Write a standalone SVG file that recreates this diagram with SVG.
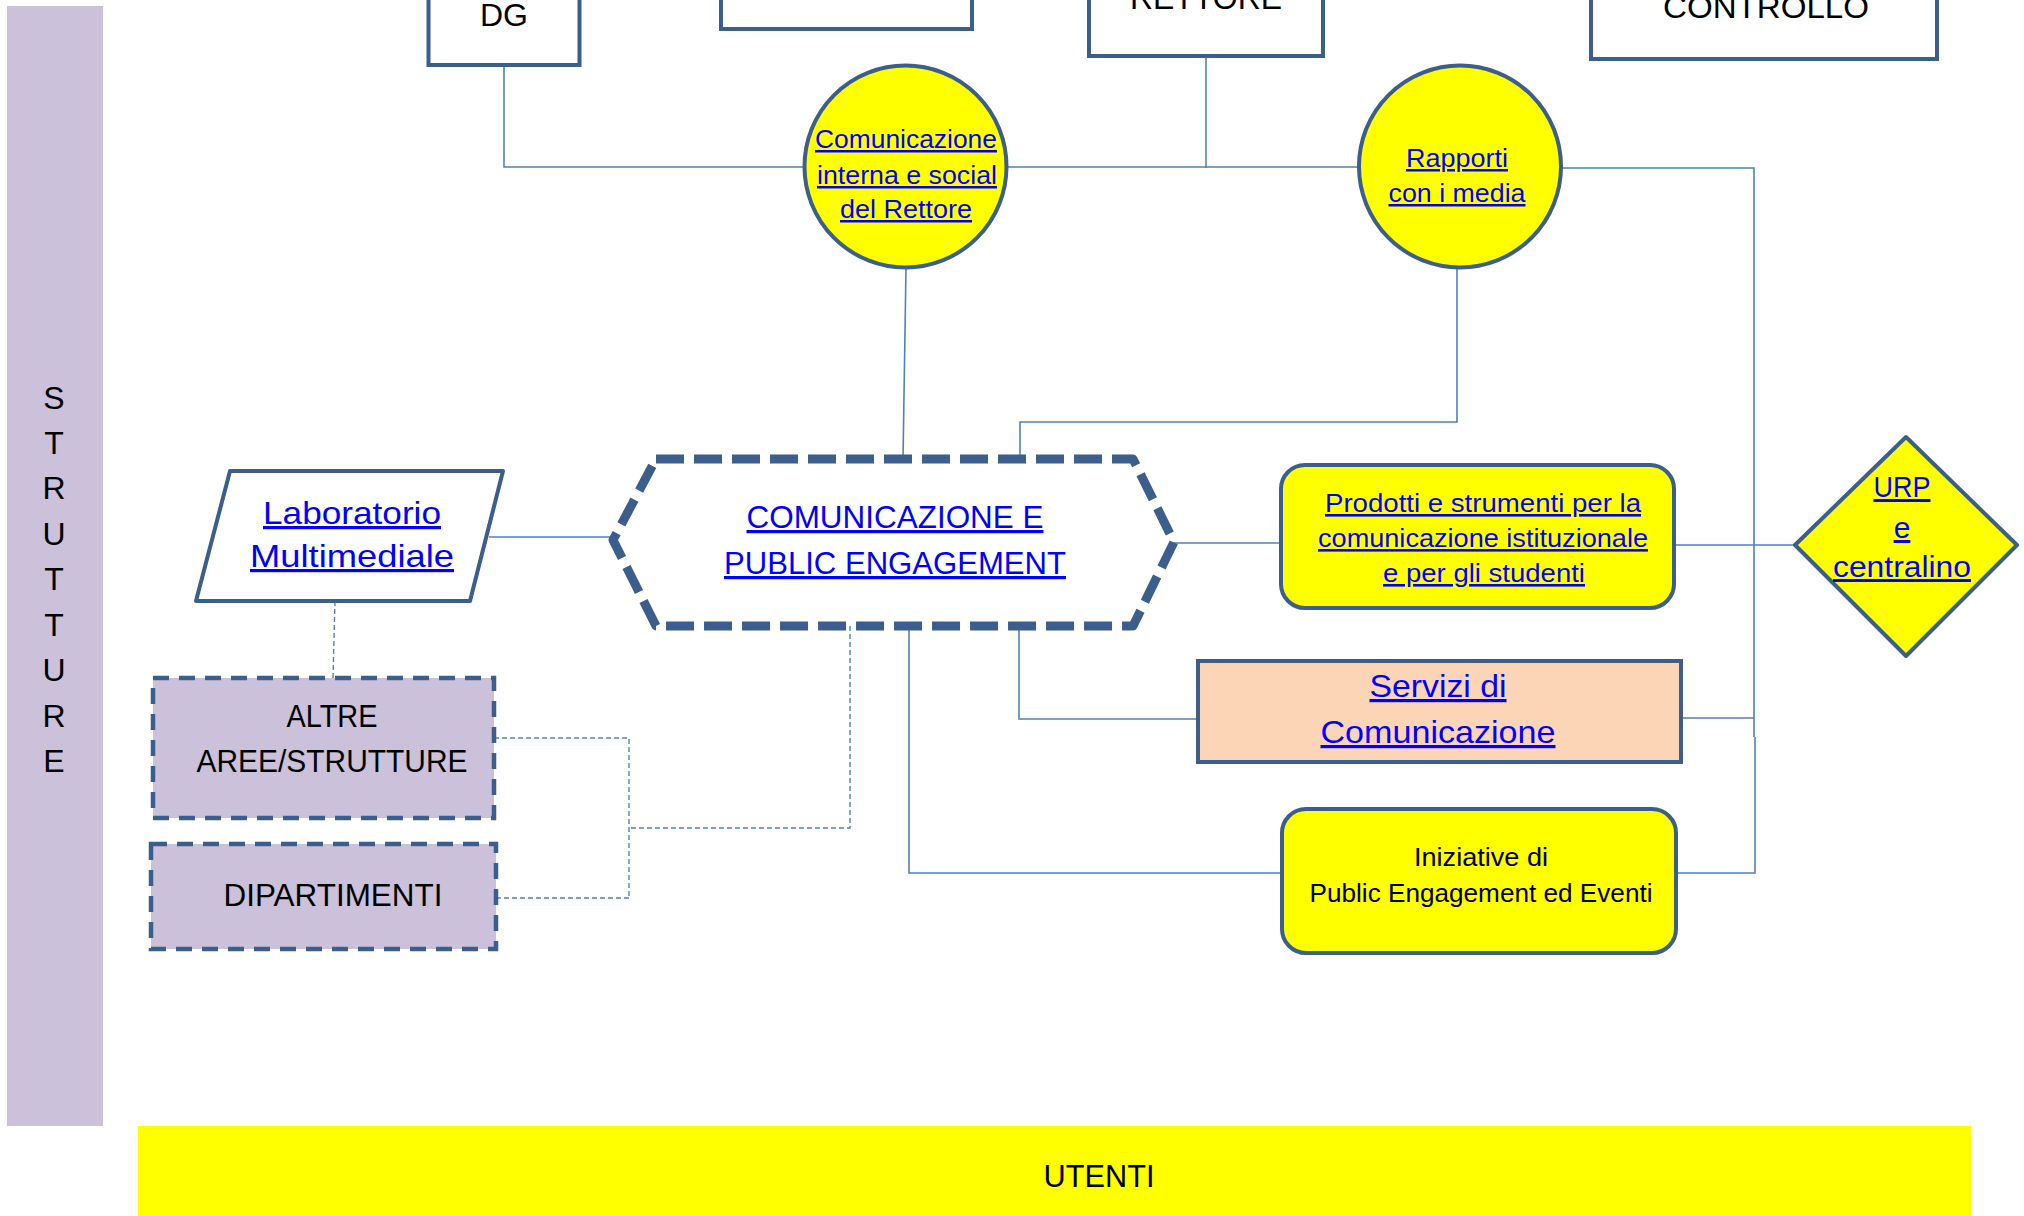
<svg xmlns="http://www.w3.org/2000/svg" width="2024" height="1216" viewBox="0 0 2024 1216">
<style>
text{font-family:"Liberation Sans",Arial,sans-serif;text-anchor:middle}
.blk{fill:#000}
.lnk{fill:#0000FF;text-decoration:underline}
.box{fill:#fff;stroke:#3B5E8C;stroke-width:4}
.yel{fill:#FFFF00;stroke:#3B5E8C;stroke-width:4}
.pur{fill:#CCC1DA;stroke:#3B5E8C;stroke-width:4.5;stroke-dasharray:16 10}
.con{fill:none;stroke:#4F81BD;stroke-width:1.6}
.dcon{fill:none;stroke:#4F81BD;stroke-width:1.4;stroke-dasharray:5 3}
</style>
<rect x="0" y="0" width="2024" height="1216" fill="#fff"/>
<g id="strutture">
<rect x="7" y="6" width="96" height="1120" fill="#CCC1DA"/>
<g class="blk" font-size="32">
<text x="54" y="409">S</text><text x="54" y="454">T</text><text x="54" y="499">R</text><text x="54" y="545">U</text><text x="54" y="590">T</text><text x="54" y="636">T</text><text x="54" y="681">U</text><text x="54" y="727">R</text><text x="54" y="772">E</text>
</g>
</g>
<g id="utenti">
<rect x="138" y="1126" width="1833" height="90" fill="#FFFF00"/>
<text class="blk" x="1099" y="1187" font-size="31" textLength="111" lengthAdjust="spacingAndGlyphs">UTENTI</text>
</g>
<g id="connectors">
<path class="con" d="M504 66V167H804"/>
<path class="con" d="M1007 167H1359"/>
<path class="con" d="M1206 56V168"/>
<path class="con" d="M1561 168H1754V737"/>
<path class="con" d="M1755 737V873H1676"/>
<path class="con" d="M1457 268V422H1020V459"/>
<path class="con" d="M906 268L903 459"/>
<path class="con" d="M489 537H613"/>
<path class="con" d="M1174 543H1281"/>
<path class="con" d="M1674 545H1795"/>
<path class="con" d="M1681 718H1754"/>
<path class="con" d="M1019 626V719H1198"/>
<path class="con" d="M909 626V873H1282"/>
<path class="dcon" d="M335 601L333 678"/>
<path class="dcon" d="M494 738H629V898"/>
<path class="dcon" d="M496 898H629"/>
<path class="dcon" d="M850 626V828H629"/>
</g>
<g id="dg">
<rect class="box" x="428.5" y="-10" width="151" height="75"/>
<text class="blk" x="504" y="26" font-size="32" textLength="48" lengthAdjust="spacingAndGlyphs">DG</text>
</g>
<g id="box2">
<rect class="box" x="721" y="-10" width="251" height="39"/>
</g>
<g id="rettore">
<rect class="box" x="1089" y="-10" width="234" height="66"/>
<text class="blk" x="1206" y="9" font-size="32" textLength="152" lengthAdjust="spacingAndGlyphs">RETTORE</text>
</g>
<g id="controllo">
<rect class="box" x="1591" y="-10" width="346" height="69"/>
<text class="blk" x="1766" y="18" font-size="32" textLength="206" lengthAdjust="spacingAndGlyphs">CONTROLLO</text>
</g>
<g id="comunicazione-interna">
<circle class="yel" cx="905.5" cy="166.5" r="101"/>
<g class="lnk" font-size="25">
<text x="906" y="148" textLength="182" lengthAdjust="spacingAndGlyphs">Comunicazione</text>
<text x="907" y="184" textLength="180" lengthAdjust="spacingAndGlyphs">interna e social</text>
<text x="906" y="218" textLength="132" lengthAdjust="spacingAndGlyphs">del Rettore</text>
</g>
</g>
<g id="rapporti-media">
<circle class="yel" cx="1460" cy="166.5" r="101"/>
<g class="lnk" font-size="25">
<text x="1457" y="167" textLength="102" lengthAdjust="spacingAndGlyphs">Rapporti</text>
<text x="1457" y="202" textLength="137" lengthAdjust="spacingAndGlyphs">con i media</text>
</g>
</g>
<g id="comunicazione-pe">
<path d="M656 459H1133L1174 542L1133 626H656L613 540Z" fill="#fff" stroke="#3B5E8C" stroke-width="9" stroke-dasharray="28 10" stroke-linejoin="round"/>
<g class="lnk" font-size="32">
<text x="895" y="528" textLength="297" lengthAdjust="spacingAndGlyphs">COMUNICAZIONE E</text>
<text x="895" y="574" textLength="342" lengthAdjust="spacingAndGlyphs">PUBLIC ENGAGEMENT</text>
</g>
</g>
<g id="laboratorio">
<path d="M230 471H503L470 601H196Z" fill="#fff" stroke="#3B5E8C" stroke-width="4" stroke-linejoin="round"/>
<g class="lnk" font-size="32">
<text x="352" y="524" textLength="178" lengthAdjust="spacingAndGlyphs">Laboratorio</text>
<text x="352" y="567" textLength="204" lengthAdjust="spacingAndGlyphs">Multimediale</text>
</g>
</g>
<g id="altre">
<rect class="pur" x="153" y="678" width="341" height="140"/>
<g class="blk" font-size="32">
<text x="332" y="727" textLength="91" lengthAdjust="spacingAndGlyphs">ALTRE</text>
<text x="332" y="772" textLength="271" lengthAdjust="spacingAndGlyphs">AREE/STRUTTURE</text>
</g>
</g>
<g id="dipartimenti">
<rect class="pur" x="151" y="844" width="345" height="105"/>
<text class="blk" x="333" y="906" font-size="32" textLength="219" lengthAdjust="spacingAndGlyphs">DIPARTIMENTI</text>
</g>
<g id="prodotti">
<rect class="yel" x="1281" y="465" width="393" height="143" rx="24"/>
<g class="lnk" font-size="26">
<text x="1483" y="512" textLength="316" lengthAdjust="spacingAndGlyphs">Prodotti e strumenti per la</text>
<text x="1483" y="547" textLength="330" lengthAdjust="spacingAndGlyphs">comunicazione istituzionale</text>
<text x="1484" y="582" textLength="202" lengthAdjust="spacingAndGlyphs">e per gli studenti</text>
</g>
</g>
<g id="urp">
<path d="M1906 437L2017 545L1906 656L1795 545Z" fill="#FFFF00" stroke="#3B5E8C" stroke-width="4" stroke-linejoin="round"/>
<g class="lnk" font-size="30">
<text x="1902" y="497" textLength="57" lengthAdjust="spacingAndGlyphs">URP</text>
<text x="1902" y="538">e</text>
<text x="1902" y="577" textLength="138" lengthAdjust="spacingAndGlyphs">centralino</text>
</g>
</g>
<g id="servizi">
<rect x="1198" y="661" width="483" height="101" fill="#FBD5B5" stroke="#3B5E8C" stroke-width="4"/>
<g class="lnk" font-size="32">
<text x="1438" y="697" textLength="137" lengthAdjust="spacingAndGlyphs">Servizi di</text>
<text x="1438" y="743" textLength="235" lengthAdjust="spacingAndGlyphs">Comunicazione</text>
</g>
</g>
<g id="iniziative">
<rect class="yel" x="1282" y="809" width="394" height="144" rx="24"/>
<g class="blk" font-size="25">
<text x="1481" y="866" textLength="134" lengthAdjust="spacingAndGlyphs">Iniziative di</text>
<text x="1481" y="902" textLength="343" lengthAdjust="spacingAndGlyphs">Public Engagement ed Eventi</text>
</g>
</g>
</svg>
